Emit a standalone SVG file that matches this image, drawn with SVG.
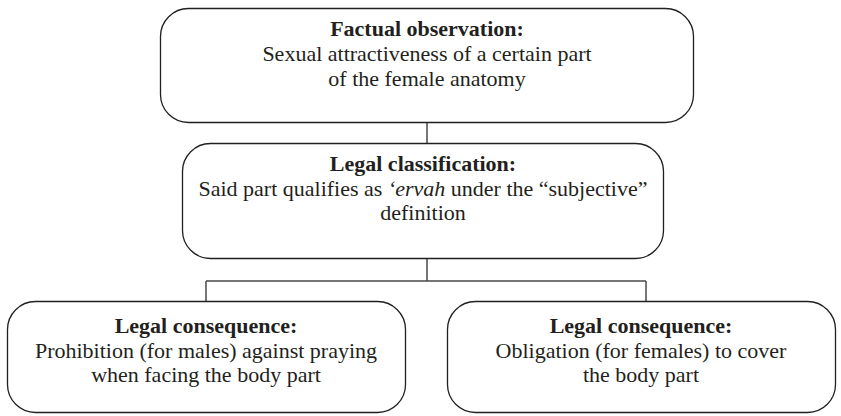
<svg xmlns="http://www.w3.org/2000/svg" width="841" height="416" viewBox="0 0 841 416">
<style>
.box{fill:#fff;stroke:#231f20;stroke-width:1.3}
.con{fill:none;stroke:#4a4a4a;stroke-width:1.5}
.t{font-size:22px;fill:#231f20;text-anchor:middle}
.b{font-weight:bold}
.i{font-style:italic}
</style>
<rect width="841" height="416" fill="#fff"/>
<g id="connectors">
<path class="con" d="M427 123V143"/>
<path class="con" d="M427 259V281M206 281H646M206 281V301M646 281V301"/>
</g>
<g id="factual" font-family="Liberation Serif, serif">
<rect class="box" x="160.5" y="8.5" width="533" height="114" rx="28"/>
<text class="t b" x="427" y="36">Factual observation:</text>
<text class="t" x="427" y="61">Sexual attractiveness of a certain part</text>
<text class="t" x="427" y="86">of the female anatomy</text>
</g>
<g id="classification" font-family="Liberation Serif, serif">
<rect class="box" x="182.5" y="143.5" width="481" height="115" rx="28"/>
<text class="t b" x="423" y="171">Legal classification:</text>
<text class="t" x="423" y="195.5">Said part qualifies as <tspan class="i">‘ervah</tspan> under the “subjective”</text>
<text class="t" x="423" y="220">definition</text>
</g>
<g id="consequence-left" font-family="Liberation Serif, serif">
<rect class="box" x="7.5" y="301.5" width="398" height="111" rx="28"/>
<text class="t b" x="206" y="333">Legal consequence:</text>
<text class="t" x="206" y="357.5">Prohibition (for males) against praying</text>
<text class="t" x="206" y="382">when facing the body part</text>
</g>
<g id="consequence-right" font-family="Liberation Serif, serif">
<rect class="box" x="447.5" y="301.5" width="388" height="111" rx="28"/>
<text class="t b" x="641" y="333">Legal consequence:</text>
<text class="t" x="641" y="357.5">Obligation (for females) to cover</text>
<text class="t" x="641" y="382">the body part</text>
</g>
</svg>
